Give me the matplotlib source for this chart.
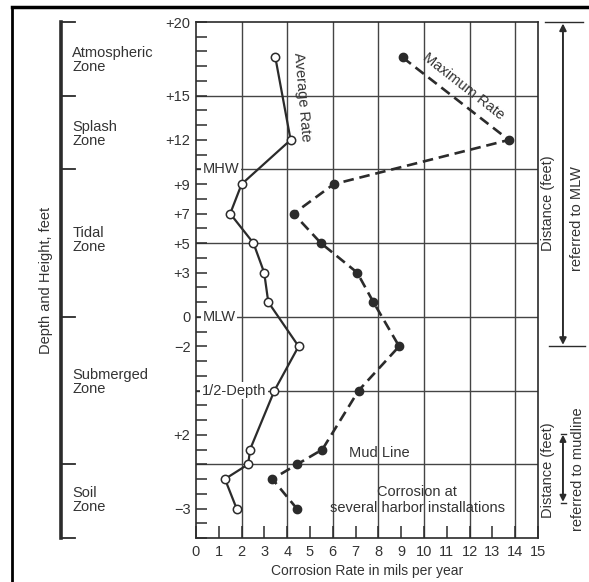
import matplotlib.pyplot as plt
from matplotlib.transforms import blended_transform_factory

plt.rcParams['font.family'] = ['Liberation Sans', 'DejaVu Sans']

# y positions are plotted on a linear "chart feet" scale: MLW = 0,
# mud line sits at -10 and the labels below MLW are re-referenced
avg_rate = [3.48, 4.15, 2.0, 1.5, 2.52, 2.99, 3.17, 4.5, 3.44, 2.37, 2.29, 1.27, 1.78]
avg_pos = [17.6, 12, 9, 7, 5, 3, 1, -2, -5, -9, -10, -11, -13]
max_rate = [9.06, 13.72, 6.04, 4.28, 5.48, 7.07, 7.78, 8.91, 7.13, 5.54, 4.44, 3.35, 4.42]
max_pos = [17.6, 12, 9, 7, 5, 3, 1, -2, -5, -9, -10, -11, -13]

ytick_pos = [20, 15, 12, 9, 7, 5, 3, 0, -2, -8, -13]
ytick_lab = ['+20', '+15', '+12', '+9', '+7', '+5', '+3', '0', '\u22122', '+2', '\u22123']
hgrid = [15, 10, 5, 0, -5, -10]
zone_bounds = [20, 15, 10, 0, -10, -15]
zones = [('Atmospheric\nZone', 17.4), ('Splash\nZone', 12.4), ('Tidal\nZone', 5.2),
         ('Submerged\nZone', -4.4), ('Soil\nZone', -12.4)]

ink = '#2b2b2b'
txt = '#333333'
fs = 10.5

fig = plt.figure(figsize=(5.89, 5.82), dpi=100)
ax = fig.add_axes([196/589, 1-538/582, 342/589, 516/582])
ax.set_xlim(0, 15)
ax.set_ylim(-15, 20)

for y in hgrid:
    ax.axhline(y, color='#444444', lw=1.0, zorder=1)
for x in range(2, 15, 2):
    ax.axvline(x, color='#444444', lw=1.0, zorder=1)

ax.plot(avg_rate, avg_pos, '-', color=ink, lw=1.6, marker='o', ms=6,
        mfc='white', mec=ink, mew=1.1, zorder=4)
ax.plot(max_rate, max_pos, '--', color=ink, lw=1.9, dashes=(4, 2.2), marker='o', ms=6,
        mfc=ink, mec=ink, zorder=4)

ax.set_xticks(range(0, 16))
ax.set_yticks(ytick_pos)
ax.set_yticklabels(ytick_lab)
ax.set_yticks(range(-15, 21), minor=True)
ax.tick_params(axis='x', direction='in', length=9, width=1.1, colors=ink,
               labelsize=fs, labelcolor=txt, pad=5)
ax.tick_params(axis='y', which='both', direction='in', length=8, width=1.1,
               colors=ink, labelsize=fs, labelcolor=txt, pad=4)
for s in ax.spines.values():
    s.set_color(ink)
    s.set_linewidth(1.2)
ax.set_xlabel('Corrosion Rate in mils per year', fontsize=10, color=txt, labelpad=4)

box = dict(facecolor='white', edgecolor='none', pad=1)
ax.text(0.3, 10, 'MHW', fontsize=fs, color=txt, va='center', ha='left', bbox=box, zorder=3)
ax.text(0.3, 0, 'MLW', fontsize=fs, color=txt, va='center', ha='left', bbox=box, zorder=3)
ax.text(0.25, -5, '1/2-Depth', fontsize=fs, color=txt, va='center', ha='left', bbox=box, zorder=3)

ax.text(4.65, 14.9, 'Average Rate', fontsize=fs, color=txt, rotation=-85,
        ha='center', va='center', rotation_mode='anchor')
ax.text(11.75, 15.65, 'Maximum Rate', fontsize=fs, color=txt, rotation=-38,
        ha='center', va='center', rotation_mode='anchor')
ax.text(8.03, -9.25, 'Mud Line', fontsize=fs, color=txt, ha='center', va='center')
ax.text(9.7, -12.4, 'Corrosion at\nseveral harbor installations', fontsize=fs,
        color=txt, ha='center', va='center', linespacing=1.2)

# left zone bracket
tr = blended_transform_factory(ax.transAxes, ax.transData)
ax.plot([-0.395, -0.395], [20, -15], color=ink, lw=2.6, transform=tr, clip_on=False)
for y in zone_bounds:
    ax.plot([-0.395, -0.354], [y, y], color=ink, lw=1.3, transform=tr, clip_on=False)
for name, y in zones:
    ax.text(-0.362, y, name, fontsize=fs, color=txt, ha='left', va='center',
            transform=tr, linespacing=1.0)
ax.text(-0.44, 2.5, 'Depth and Height, feet', fontsize=fs, color=txt, rotation=90,
        ha='center', va='center', transform=tr)

# right distance annotations
ax.plot([1.020, 1.132], [20, 20], color=ink, lw=1.0, transform=tr, clip_on=False)
ax.plot([1.032, 1.137], [-2, -2], color=ink, lw=1.0, transform=tr, clip_on=False)
ax.annotate('', xy=(1.073, 19.9), xytext=(1.073, -1.9), xycoords=tr, textcoords=tr,
            arrowprops=dict(arrowstyle='<|-|>', color=ink, lw=1.4, mutation_scale=10,
                            shrinkA=0, shrinkB=0))
ax.text(1.029, 7.7, 'Distance (feet)', fontsize=fs, color=txt, rotation=90,
        ha='center', va='center', transform=tr)
ax.text(1.114, 6.7, 'referred to MLW', fontsize=fs, color=txt, rotation=90,
        ha='center', va='center', transform=tr)

ax.plot([1.066, 1.082], [-7.95, -7.95], color=ink, lw=1.0, transform=tr, clip_on=False)
ax.plot([1.066, 1.082], [-12.6, -12.6], color=ink, lw=1.0, transform=tr, clip_on=False)
ax.annotate('', xy=(1.073, -8.0), xytext=(1.073, -12.55), xycoords=tr, textcoords=tr,
            arrowprops=dict(arrowstyle='<|-|>', color=ink, lw=1.4, mutation_scale=9,
                            shrinkA=0, shrinkB=0))
ax.text(1.029, -10.4, 'Distance (feet)', fontsize=fs, color=txt, rotation=90,
        ha='center', va='center', transform=tr)
ax.text(1.117, -10.3, 'referred to mudline', fontsize=fs, color=txt, rotation=90,
        ha='center', va='center', transform=tr)

# frame edges of the scan
fig.add_artist(plt.Line2D([12/589, 1], [1-7/582, 1-7/582], color='black', lw=2.5))
fig.add_artist(plt.Line2D([12/589, 12/589], [0, 1-7/582], color='black', lw=2.0))

fig.savefig('out.png', dpi=100)
